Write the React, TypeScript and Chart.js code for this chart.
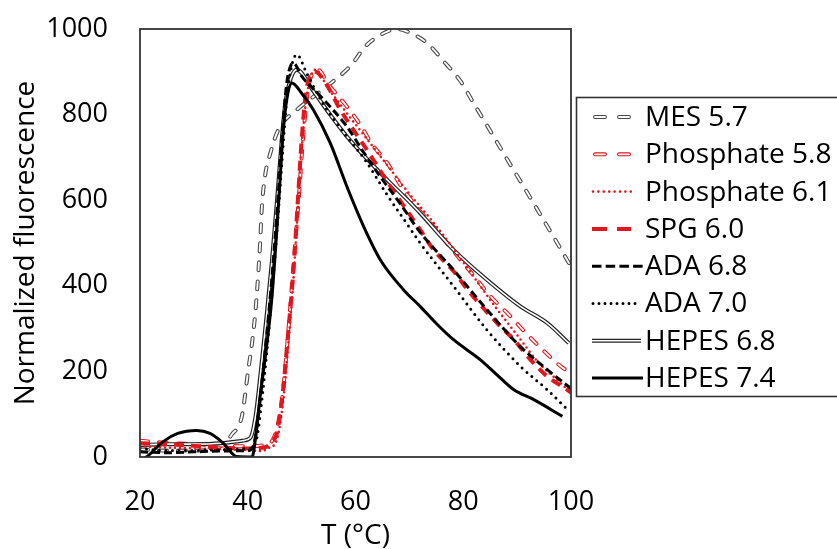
import React, { useEffect, useRef } from "react";
import { Chart, registerables } from "chart.js";

Chart.register(...registerables);

// ---------- data (T in °C, normalized fluorescence) ----------
const MES57_T = [20, 25, 30, 34, 35.5, 37, 38.9, 40.1, 40.8, 41.4, 42, 42.3, 42.6, 43.2, 44.2, 45.7, 49.1, 52, 55.5, 59.3, 61.8, 65.2, 67.7, 69.6, 73.3, 76.4, 79.5, 82, 84.4, 86.9, 88.8, 91.2, 93.1, 95.6, 98, 100];
const MES57_F = [18, 15, 15, 20, 30, 52, 95, 204, 267, 336, 438, 500, 580, 656, 710, 765, 811, 840, 874, 917, 959, 990, 1000, 994, 967, 924, 878, 825, 775, 722, 682, 632, 592, 539, 488, 445];

const PHOS58_T = [20, 25, 30, 35, 40, 43, 45, 46.5, 47.5, 48.5, 49.5, 50.3, 51.2, 52.2, 53, 55, 58.4, 60.9, 63.1, 65.9, 68.3, 70.8, 73.9, 79.5, 82.3, 85.1, 88.5, 91.6, 94.7, 98.1, 100];
const PHOS58_F = [38, 33, 30, 27, 25, 28, 50, 150, 290, 450, 610, 750, 860, 900, 905, 870, 819, 776, 730, 687, 636, 593, 547, 461, 418, 375, 332, 290, 251, 212, 195];

const PHOS61_T = [20, 25, 30, 35, 40, 42.5, 44, 45.4, 46.6, 47.5, 48.5, 49.3, 50, 50.8, 51.6, 52.5, 55, 58, 62, 66, 70, 74, 78, 82, 86, 90, 94, 97, 100];
const PHOS61_F = [25, 22, 20, 18, 16, 14, 22, 40, 134, 260, 420, 580, 720, 830, 885, 905, 860, 810, 745, 680, 615, 555, 490, 420, 350, 285, 220, 185, 150];

const SPG60_T = [20, 25, 30, 35, 40, 43, 44.5, 45.5, 46.5, 47.5, 48.5, 49.3, 50, 50.8, 51.8, 52.5, 54.1, 57.2, 62.1, 66.5, 72, 74.5, 78.2, 81.3, 86.3, 89.4, 92.5, 95.6, 99.3, 100];
const SPG60_F = [32, 30, 26, 22, 20, 22, 35, 60, 150, 290, 440, 600, 740, 850, 895, 900, 881, 811, 718, 632, 531, 484, 434, 383, 313, 274, 227, 188, 157, 150];

const ADA68_T = [20, 25, 30, 35, 40, 41, 42, 43, 44, 45, 45.8, 46.5, 47.2, 48, 48.5, 50, 54.1, 58.4, 61.5, 64.6, 68.3, 72, 78.2, 84.4, 90.6, 95.6, 100];
const ADA68_F = [12, 10, 12, 14, 15, 25, 100, 220, 350, 500, 640, 770, 870, 915, 920, 890, 835, 772, 712, 655, 592, 525, 437, 344, 258, 204, 160];

const ADA70_T = [20, 25, 30, 35, 40, 41.5, 42.5, 43.5, 44.5, 45.5, 46.3, 47, 47.8, 48.5, 49.1, 51, 54, 58, 62, 66, 69, 72, 78.2, 84.4, 90.6, 95.6, 99];
const ADA70_F = [20, 15, 15, 17, 20, 35, 120, 240, 380, 540, 680, 800, 890, 930, 940, 895, 825, 755, 690, 610, 555, 500, 399, 297, 212, 157, 115];

const HEPES68_T = [20, 25, 30, 35, 39, 40.5, 41.5, 42.5, 43.5, 44.5, 45.5, 46.3, 47, 48, 49.1, 52, 55, 58.4, 64.6, 70.8, 72, 78.2, 84.4, 90.6, 95.6, 99.6];
const HEPES68_F = [28, 30, 30, 32, 38, 45, 100, 210, 330, 460, 610, 740, 830, 885, 905, 858, 805, 749, 664, 586, 570, 484, 414, 352, 313, 266];

const HEPES74_T = [20, 21.2, 24.3, 27, 30.5, 33, 35.4, 38, 40.8, 41.4, 42.3, 43.5, 44.5, 45.4, 46, 46.6, 47.3, 48.2, 50, 52.2, 55.3, 58.4, 61.5, 64.6, 68.9, 72, 75, 78.2, 83.2, 86, 89.4, 93.1, 98.4];
const HEPES74_F = [-8, 0, 36, 55, 62, 55, 33, 1, 0, 40, 142, 258, 375, 531, 648, 765, 840, 874, 850, 811, 734, 632, 539, 461, 391, 352, 312, 274, 227, 195, 157, 134, 95];

const X_MIN = 20, X_MAX = 100, X_STEP = 20;
const Y_MIN = 0, Y_MAX = 1000, Y_STEP = 200;
const X_TITLE = "T (°C)";
const Y_TITLE = "Normalized fluorescence";

// ---------- styles ----------
const RED = "#e3161d";
const FONT = "'Open Sans', 'DejaVu Sans', sans-serif";
const FS_TEXT = 28;
const FS_TICK = 27;

type Stroke = { color: string; width: number; dash: number[]; cap: CanvasLineCap };
type Series = {
  label: string; t: number[]; f: number[];
  outer: Stroke; inner?: Stroke;
  lg: { x0: number; x1: number; dash: number[] };
};

const SERIES: Series[] = [
  { label: "MES 5.7", t: MES57_T, f: MES57_F,
    outer: { color: "#4d4d4d", width: 4, dash: [8, 11], cap: "round" },
    inner: { color: "#ffffff", width: 1.8, dash: [8, 11], cap: "round" },
    lg: { x0: 595, x1: 630, dash: [10, 14] } },
  { label: "Phosphate 5.8", t: PHOS58_T, f: PHOS58_F,
    outer: { color: RED, width: 4, dash: [8, 11], cap: "round" },
    inner: { color: "#ffffff", width: 1.8, dash: [8, 11], cap: "round" },
    lg: { x0: 595, x1: 630, dash: [10, 14] } },
  { label: "Phosphate 6.1", t: PHOS61_T, f: PHOS61_F,
    outer: { color: RED, width: 2.6, dash: [0, 5], cap: "round" },
    lg: { x0: 593, x1: 636, dash: [0, 5.4] } },
  { label: "SPG 6.0", t: SPG60_T, f: SPG60_F,
    outer: { color: RED, width: 4, dash: [10, 7], cap: "butt" },
    lg: { x0: 592, x1: 631, dash: [15, 10] } },
  { label: "ADA 6.8", t: ADA68_T, f: ADA68_F,
    outer: { color: "#000000", width: 3, dash: [8, 4], cap: "butt" },
    lg: { x0: 592, x1: 645, dash: [9.5, 4.2] } },
  { label: "ADA 7.0", t: ADA70_T, f: ADA70_F,
    outer: { color: "#000000", width: 3, dash: [0, 6.5], cap: "round" },
    lg: { x0: 593, x1: 636, dash: [0, 6] } },
  { label: "HEPES 6.8", t: HEPES68_T, f: HEPES68_F,
    outer: { color: "#222222", width: 4, dash: [], cap: "butt" },
    inner: { color: "#ffffff", width: 1.6, dash: [], cap: "butt" },
    lg: { x0: 592, x1: 641, dash: [] } },
  { label: "HEPES 7.4", t: HEPES74_T, f: HEPES74_F,
    outer: { color: "#000000", width: 3, dash: [], cap: "butt" },
    lg: { x0: 592, x1: 643, dash: [] } },
];

// drawing order, bottom first
const DRAW_ORDER = ["MES 5.7", "Phosphate 5.8", "HEPES 6.8", "Phosphate 6.1", "SPG 6.0", "ADA 7.0", "ADA 6.8", "HEPES 7.4"];

const frameAndLegend = {
  id: "frameAndLegend",
  afterDraw(chart: any) {
    const ctx: CanvasRenderingContext2D = chart.ctx;
    const a = chart.chartArea;
    ctx.save();
    ctx.strokeStyle = "#333333";
    ctx.lineWidth = 1.8;
    ctx.setLineDash([]);
    ctx.strokeRect(a.left, a.top, a.right - a.left, a.bottom - a.top);

    // legend box
    ctx.lineWidth = 1.6;
    ctx.strokeRect(576.5, 97.5, 280, 299);

    ctx.font = `${FS_TEXT}px ${FONT}`;
    ctx.textBaseline = "middle";
    ctx.textAlign = "left";
    SERIES.forEach((s, i) => {
      const y = 117 + i * 37.3;
      const strokes = s.inner ? [s.outer, s.inner] : [s.outer];
      strokes.forEach((st) => {
        ctx.beginPath();
        ctx.strokeStyle = st.color;
        ctx.lineWidth = st.width;
        ctx.lineCap = st.cap;
        ctx.setLineDash(s.lg.dash);
        ctx.moveTo(s.lg.x0, y);
        ctx.lineTo(s.lg.x1, y);
        ctx.stroke();
      });
      ctx.setLineDash([]);
      ctx.fillStyle = "#000";
      ctx.fillText(s.label, 645, y + 1);
    });
    ctx.restore();
  },
};

export default function App() {
  const ref = useRef<HTMLCanvasElement>(null);

  useEffect(() => {
    const canvas = ref.current;
    if (!canvas) return;
    const datasets: any[] = [];
    DRAW_ORDER.forEach((name) => {
      const s = SERIES.find((q) => q.label === name)!;
      const data = s.t.map((t, i) => ({ x: t, y: s.f[i] }));
      const strokes = s.inner ? [s.outer, s.inner] : [s.outer];
      strokes.forEach((st) => {
        datasets.push({
          label: s.label,
          data,
          borderColor: st.color,
          borderWidth: st.width,
          borderDash: st.dash,
          borderCapStyle: st.cap,
          borderJoinStyle: "round",
          pointRadius: 0,
          pointHoverRadius: 0,
          fill: false,
          cubicInterpolationMode: "monotone",
        });
      });
    });
    datasets.forEach((d, i) => (d.order = datasets.length - i));

    const chart = new Chart(canvas, {
      type: "line",
      data: { datasets },
      options: {
        responsive: false,
        animation: false,
        devicePixelRatio: 1,
        events: [],
        layout: { padding: { top: 29, right: 266, left: 0, bottom: 0 } },
        plugins: { legend: { display: false }, tooltip: { enabled: false } },
        scales: {
          x: {
            type: "linear",
            min: X_MIN,
            max: X_MAX,
            grid: { display: false, drawTicks: false },
            border: { display: false },
            ticks: { stepSize: X_STEP, padding: 29, color: "#000", font: { family: FONT, size: FS_TICK }, callback: (v: any) => String(v) },
            title: { display: true, text: X_TITLE, color: "#000", font: { family: FONT, size: FS_TEXT, lineHeight: 0.9 }, padding: { top: 0, bottom: 0 } },
            afterFit: (sc: any) => { sc.height = 92; sc.paddingLeft = 0; sc.paddingRight = 0; },
          },
          y: {
            type: "linear",
            min: Y_MIN,
            max: Y_MAX,
            grid: { display: false, drawTicks: false },
            border: { display: false },
            ticks: { stepSize: Y_STEP, padding: 32, color: "#000", font: { family: FONT, size: FS_TICK }, callback: (v: any) => String(v) },
            title: { display: true, text: Y_TITLE, color: "#000", font: { family: FONT, size: FS_TEXT, lineHeight: 1 }, padding: { top: 12, bottom: 0 } },
            afterFit: (sc: any) => { sc.width = 140; sc.paddingTop = 0; sc.paddingBottom = 0; },
          },
        },
      },
      plugins: [frameAndLegend],
    });
    return () => chart.destroy();
  }, []);

  return (
    <div style={{ position: "fixed", left: 0, top: 0, width: 837, height: 549, background: "#fff" }}>
      <canvas ref={ref} width={837} height={549} style={{ width: 837, height: 549, display: "block" }} />
    </div>
  );
}
